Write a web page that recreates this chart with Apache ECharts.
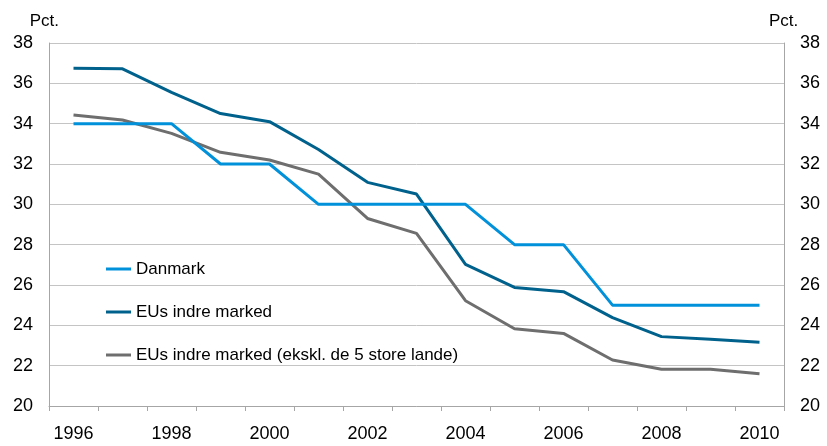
<!DOCTYPE html>
<html>
<head>
<meta charset="utf-8">
<script src="https://cdn.jsdelivr.net/npm/echarts@6/dist/echarts.min.js"></script>
<style>html,body{margin:0;padding:0;background:#fff}#c{width:827px;height:446px}</style>
</head>
<body>
<div id="c"></div>
<script>
const years = ['1996','1997','1998','1999','2000','2001','2002','2003','2004','2005','2006','2007','2008','2009','2010'];
const danmark = [34,34,34,32,32,30,30,30,30,28,28,25,25,25,25];
const euIndre = [36.75,36.72,35.55,34.5,34.1,32.72,31.09,30.51,27.02,25.88,25.67,24.38,23.44,23.31,23.16];
const euEkskl = [34.43,34.18,33.52,32.58,32.2,31.5,29.3,28.56,25.22,23.83,23.6,22.28,21.82,21.82,21.6];
const yTicks = {min:20, max:38, interval:2};
const names = ['Danmark','EUs indre marked','EUs indre marked (ekskl. de 5 store lande)'];
const colors = ['#0091DA','#00618C','#6E6E6E'];
const font = 'Liberation Sans, Arial, sans-serif';

const chart = echarts.init(document.getElementById('c'), null, {renderer:'canvas'});
const yAxisBase = (pos) => ({
  type:'value', position:pos, min:yTicks.min, max:yTicks.max, interval:yTicks.interval,
  name:'Pct.', nameLocation:'end', nameGap:13,
  nameTextStyle:{fontFamily:font, fontSize:17, color:'#000', align: pos==='left' ? 'right':'left', padding: pos==='left' ? [0,-10,0,0] : [0,0,0,-15]},
  axisLine:{show:true, lineStyle:{color:'#A6A6A6', width:1}},
  axisTick:{show:false},
  axisLabel:{fontFamily:font, fontSize:18, color:'#000', margin:16},
  splitLine:{show: pos==='left', lineStyle:{color:'#C4C4C4', width:1}}
});
chart.setOption({
  animation:false,
  grid:{left:49, right:43, top:43, bottom:40, containLabel:false},
  legend:{
    orient:'vertical', left:101, top:254, itemWidth:25, itemHeight:3, itemGap:23,
    icon:'rect', selectedMode:false,
    textStyle:{fontFamily:font, fontSize:17, color:'#000', lineHeight:20},
    data:names
  },
  xAxis:{
    type:'category', data:years, boundaryGap:true,
    axisLine:{lineStyle:{color:'#A6A6A6', width:1}},
    axisTick:{show:true, interval:0, length:5, lineStyle:{color:'#A6A6A6'}},
    axisLabel:{interval:1, fontFamily:font, fontSize:18, color:'#000', margin:19},
    splitLine:{show:false}
  },
  yAxis:[yAxisBase('left'), yAxisBase('right')],
  series:[danmark, euIndre, euEkskl].map((d,i)=>({
    name:names[i], type:'line', data:d, yAxisIndex:0, symbol:'none', smooth:false,
    lineStyle:{color:colors[i], width:3}, itemStyle:{color:colors[i]}, z: 3-i
  }))
});
</script>
</body>
</html>
